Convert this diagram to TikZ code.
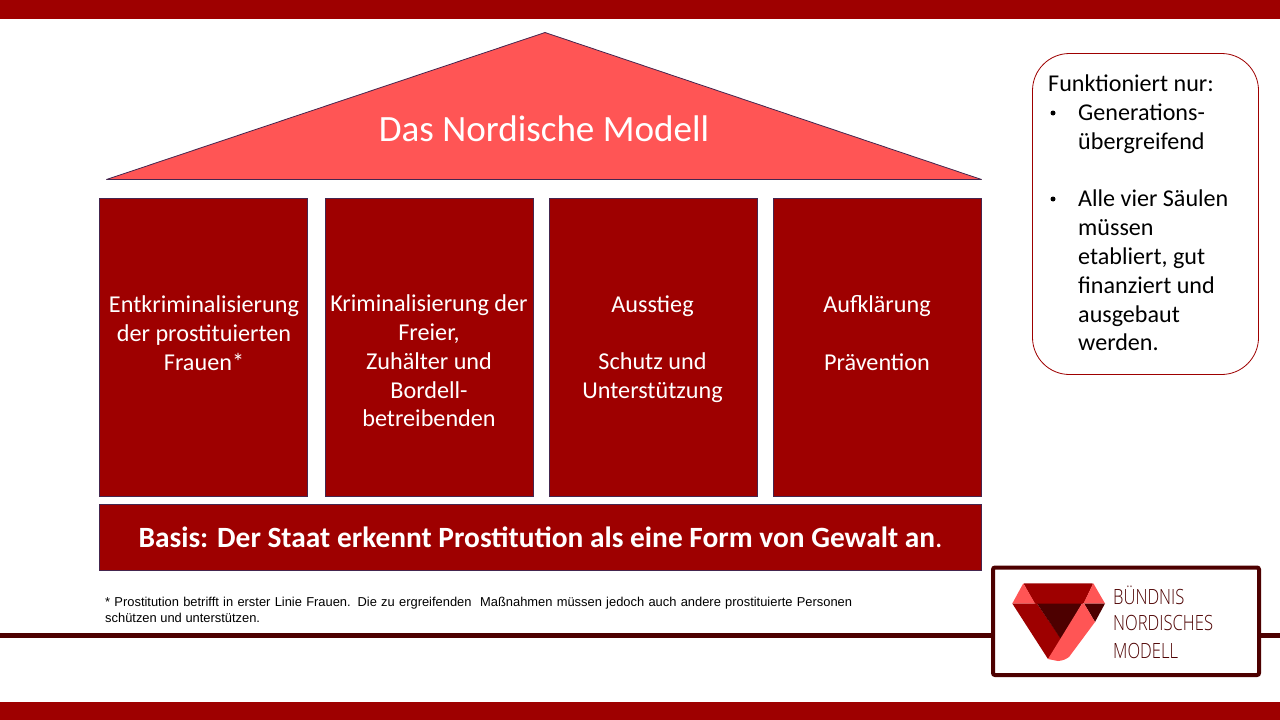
\documentclass[tikz,border=0pt]{standalone}
\usepackage{fontspec}
\usepackage{graphicx}
\setmainfont{Carlito}
\newfontfamily\notefont{Liberation Sans}
\newfontfamily\logofont{Open Sans Light}
\definecolor{bar}{HTML}{9E0000}
\definecolor{deep}{HTML}{4D0000}
\definecolor{roof}{HTML}{FF5555}
\definecolor{edge}{HTML}{44264F}
\tikzset{
  pillar/.style={draw=edge,line width=.8pt,fill=bar,minimum width=208pt,minimum height=298pt,anchor=north west,inner sep=0pt},
  pillartext/.style={text=white,font=\fontsize{24.2}{28.8}\selectfont,align=center,anchor=center,inner sep=0pt},
  sidetext/.style={anchor=north west,inner sep=0pt,font=\fontsize{24.1}{28.8}\selectfont,align=left},
  sidebullet/.style={circle,fill=black,minimum size=5pt,inner sep=0pt},
  logotext/.style={text=deep,font=\logofont\fontsize{21}{28.5}\selectfont,anchor=west,inner sep=0pt},
}
\begin{document}
\begin{tikzpicture}[x=1pt,y=-1pt]
\useasboundingbox (0,0) rectangle (1280,720);
\fill[white] (0,0) rectangle (1280,720);
\fill[bar] (0,0) rectangle (1280,19);
\fill[bar] (0,702) rectangle (1280,720);
\fill[deep] (0,632.5) rectangle (1280,637.5);
% roof
\draw[edge,line width=.8pt,line join=round,fill=roof] (545,32.5) -- (981.5,179.5) -- (106.5,179.5) -- cycle;
\node[text=white,font=\fontsize{37.1}{42}\selectfont,inner sep=0pt] (title) at (544,129) {Das Nordische Modell};
% pillars
\node[pillar] (p1) at (98.8,197.8) {};
\node[pillar] (p2) at (324.8,197.8) {};
\node[pillar] (p3) at (548.8,197.8) {};
\node[pillar] (p4) at (772.8,197.8) {};
\node[pillartext] (t1) at (204,333) {Entkriminalisierung\\der prostituierten\hspace{6pt}\\Frauen*};
\node[pillartext] (t2) at (429,361) {Kriminalisierung der\\Freier,\\Zuhälter und\\Bordell-\\betreibenden};
\node[pillartext] (t3) at (652.5,349) {Ausstieg\\[28.8pt]Schutz und\\Unterstützung};
\node[pillartext] (t4) at (877,333) {Aufklärung\\[28.8pt]Prävention};
% base
\node[draw=edge,line width=.8pt,fill=bar,minimum width=882pt,minimum height=66pt,anchor=north west,inner sep=0pt] (base) at (98.8,503.8) {};
\node[text=white,font=\fontsize{29.4}{32}\selectfont,inner sep=0pt] (basetext) at (540.5,537) {\textbf{Basis: Der Staat erkennt Prostitution als eine Form von Gewalt an}.};
% footnote
\node[font=\notefont\fontsize{12.9}{16}\selectfont,anchor=north west,inner sep=0pt,align=left] (note) at (105,596.5) {\makebox[747pt][s]{* Prostitution betrifft in erster Linie Frauen. Die zu ergreifenden\ \ Maßnahmen müssen jedoch auch andere prostituierte Personen}\\schützen und unterstützen.};
% callout
\draw[bar,line width=.8pt,fill=white,rounded corners=37pt] (1032.5,53.5) rectangle (1258.5,374.5);
\node[sidetext] (c0) at (1048,75) {Funktioniert nur:};
\node[sidebullet] (b1) at (1053,113) {};
\node[sidetext] (c1) at (1078,104) {Generations-\\übergreifend};
\node[sidebullet] (b2) at (1053,199) {};
\node[sidetext] (c2) at (1078,190) {Alle vier Säulen\\müssen\\etabliert, gut\\finanziert und\\ausgebaut\\werden.};
% logo
\draw[deep,line width=4pt,fill=white,rounded corners=2pt] (993,567.5) rectangle (1259,675);
\fill[bar,rounded corners=1pt] (1023.3,583.3) -- (1093.3,583.3) -- (1083.5,604) -- (1035,604) -- cycle;
\fill[roof] (1023.3,583.3) -- (1035,603.5) -- (1012.3,603.5) -- cycle;
\fill[roof] (1093.3,583.3) -- (1105,603.5) -- (1083.5,603.5) -- cycle;
\fill[bar] (1012.3,603.5) -- (1037,603.5) -- (1062,640) -- (1048,659) -- cycle;
\fill[deep] (1037,603.5) -- (1082,603.5) -- (1061.5,640) -- cycle;
\fill[deep] (1084,603.5) -- (1105,603.5) -- (1095,622) -- cycle;
\fill[roof] (1082,603.5) -- (1084,603.5) -- (1095,622) -- (1069,657) to[bend left=15] (1058,661) -- (1048,659) -- cycle;
\node[logotext] (l1) at (1113,595) {\scalebox{.79}[1]{BÜNDNIS}};
\node[logotext] (l2) at (1113,623) {\scalebox{.79}[1]{NORDISCHES}};
\node[logotext] (l3) at (1113,651) {\scalebox{.79}[1]{MODELL}};
\end{tikzpicture}
\end{document}
